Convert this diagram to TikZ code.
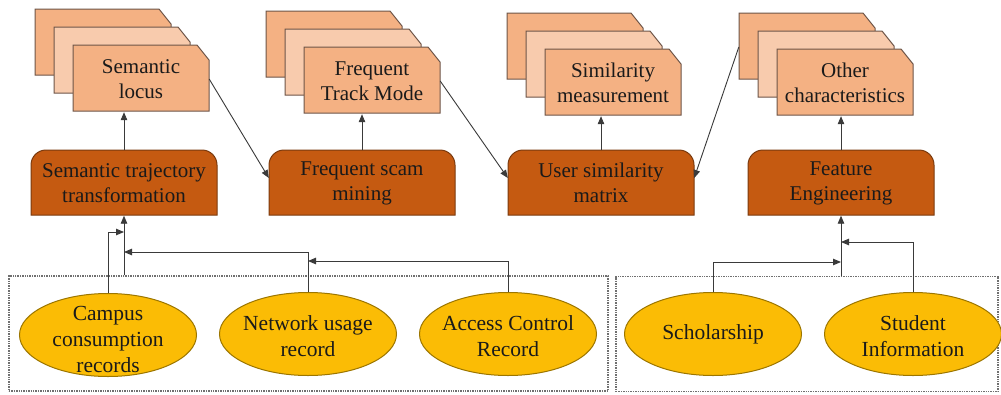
\documentclass[tikz,border=0pt]{standalone}
\usepackage{fontspec}
\setmainfont{Liberation Serif}
\newfontfamily\tnrfont{Liberation Serif}
\usetikzlibrary{arrows.meta,calc,shapes.geometric}
\definecolor{docA}{HTML}{F4B183}
\definecolor{docB}{HTML}{F8CBAD}
\definecolor{docLine}{HTML}{6E5548}
\definecolor{darkFill}{HTML}{C55A11}
\definecolor{darkLine}{HTML}{7A3A0E}
\definecolor{ellFill}{HTML}{FBBC05}
\definecolor{ellLine}{HTML}{9C7600}
\definecolor{lineC}{HTML}{3A3A3A}
\definecolor{boxLine}{HTML}{707070}
\definecolor{txt}{HTML}{1A1A1A}

\newcommand\doclayer[5]{%
  \filldraw[doclayer, fill=#4] ({#2},{#3}) -- ({#2+124},{#3}) -- ({#2+136},{#3+15}) -- ({#2+136},{#3+66}) -- ({#2},{#3+66}) -- cycle;
  \node[doctext] (#1) at ({#2+68},{#3+34}) {#5};
}
\newcommand\docstack[4]{%
  \doclayer{#1c}{#2-38}{#3-36}{docA}{}
  \doclayer{#1b}{#2-19}{#3-18}{docB}{}
  \doclayer{#1}{#2}{#3}{docA}{#4}
}
\newcommand\darkbox[3]{%
  \filldraw[darkstyle] ({#2},215) -- ({#2},165) arc[start angle=180,end angle=90,radius=15pt] -- ({#2+171},150) arc[start angle=90,end angle=0,radius=15pt] -- ({#2+186},215) -- cycle;
  \node[darktext] (#1) at ({#2+93},183) {#3};
}

\begin{document}
\begin{tikzpicture}[x=1pt,y=-1pt,
  doclayer/.style={draw=docLine, line width=1pt},
  doctext/.style={minimum width=136pt, minimum height=66pt, inner sep=0pt, align=center, text=txt, font=\tnrfont\fontsize{21}{25}\selectfont},
  darkstyle/.style={draw=darkLine, fill=darkFill, line width=1pt},
  darktext/.style={minimum width=186pt, minimum height=65pt, inner sep=0pt, align=center, text=txt, font=\tnrfont\fontsize{21}{25}\selectfont},
  ell/.style={ellipse, draw=ellLine, fill=ellFill, line width=1pt, minimum width=177pt, minimum height=83pt, inner sep=0pt},
  elltext/.style={inner sep=0pt, align=center, text=txt, font=\tnrfont\fontsize{21.5}{26}\selectfont},
  grp/.style={draw=boxLine, densely dotted, line width=1.4pt, minimum height=115pt, inner sep=0pt},
  conn/.style={draw=lineC, line width=0.9pt},
  arr/.style={conn, -{Triangle[length=8pt,width=6.5pt]}}
]
\fill[white] (0,0) rectangle (1001,394);
\useasboundingbox (0,0) rectangle (1001,394);

% document stacks
\docstack{doc1}{73}{45}{Semantic\\locus}
\docstack{doc2}{304}{47}{Frequent\\Track Mode}
\docstack{doc3}{545}{49}{Similarity\\measurement}
\docstack{doc4}{777}{49}{Other\\characteristics}

% process boxes
\darkbox{dark1}{31}{Semantic trajectory\\transformation}
\darkbox{dark2}{269}{Frequent scam\\mining}
\darkbox{dark3}{508}{User similarity\\matrix}
\darkbox{dark4}{748}{Feature\\Engineering}

% group boxes
\node[grp, minimum width=599pt] (g1) at (308.5,333.5) {};
\node[grp, minimum width=382pt] (g2) at (807,334) {};

% data sources
\node[ell] (campus) at (108,335) {};
\node[elltext] (campusT) at ($(campus.center)+(0,4)$) {Campus\\consumption\\records};
\node[ell] (net) at (308,334) {};
\node[elltext] (netT) at ($(net.center)+(0,2)$) {Network usage\\record};
\node[ell] (acc) at (508,334) {};
\node[elltext] (accT) at ($(acc.center)+(0,2)$) {Access Control\\Record};
\node[ell] (schol) at (713,334) {};
\node[elltext] (scholT) at (schol.center) {Scholarship};
\node[ell] (stud) at (913,334) {};
\node[elltext] (studT) at ($(stud.center)+(0,2)$) {Student\\Information};

% process -> document
\draw[arr] (dark1.north) -- (dark1.north |- doc1.south);
\draw[arr] (dark2.north) -- (dark2.north |- doc2.south);
\draw[arr] (dark3.north) -- (dark3.north |- doc3.south);
\draw[arr] (dark4.north) -- (dark4.north |- doc4.south);

% document -> next process
\draw[arr] (doc1.east) -- ($(dark2.west)+(0,-5)$);
\draw[arr] (doc2.east) -- ($(dark3.west)+(0,-5)$);
\draw[arr] (doc4c.west) -- ($(dark3.east)+(0,-5)$);

% left group inputs
\coordinate (m1) at (dark1.south |- g1.north);
\coordinate (jc) at (dark1.south |- 0,232);
\coordinate (jn) at (dark1.south |- 0,252);
\coordinate (ja) at (net.north |- 0,261);
\draw[arr] (m1) -- (dark1.south);
\draw[arr] (campus.north) |- (jc);
\draw[arr] (net.north) |- (jn);
\draw[arr] (acc.north) |- (ja);

% right group inputs
\coordinate (m2) at (dark4.south |- g2.north);
\coordinate (js) at (dark4.south |- 0,262);
\coordinate (jt) at (dark4.south |- 0,242);
\draw[arr] (m2) -- (dark4.south);
\draw[arr] (schol.north) |- (js);
\draw[arr] (stud.north) |- (jt);
\end{tikzpicture}
\end{document}
